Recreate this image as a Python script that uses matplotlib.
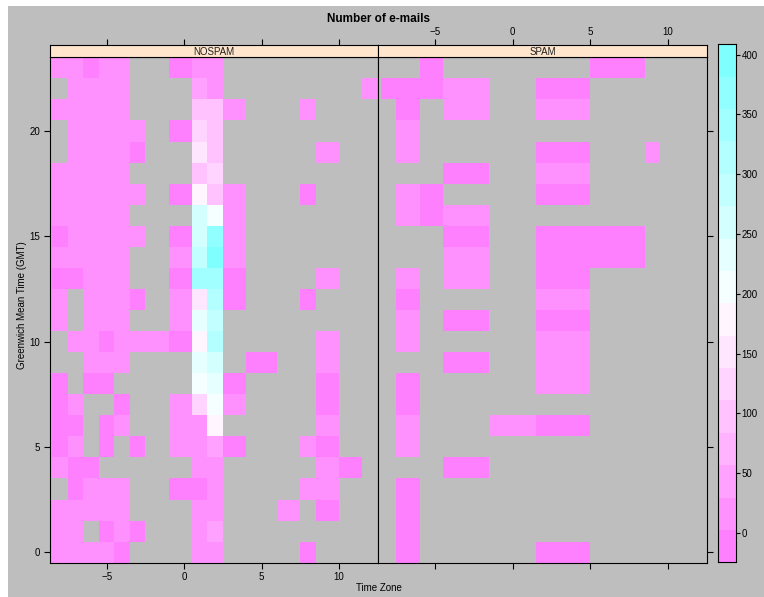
import numpy as np
import matplotlib
matplotlib.use("Agg")
import matplotlib.pyplot as plt
from matplotlib.colors import ListedColormap, BoundaryNorm
from matplotlib.patches import Rectangle

plt.rcParams['font.family'] = ['Liberation Sans', 'DejaVu Sans']

N = np.nan

# ---------------- data ----------------
hours = list(range(24))
panel_names = ["NOSPAM", "SPAM"]

nospam_zones = [-8, -7, -6, -5, -4, -3, -2, 0, 1, 2, 3, 5, 7, 8, 9, 11, 12]
spam_zones = [-8, -7, -5, -4, 1, 2, 8, 9]

# rows = hour 0..23, columns = zones above (NaN = no e-mails)
nospam_counts = [
    [12, 12, 12, 12, 2, N, N, N, 12, 12, N, N, N, 2, N, N, N],      # 0
    [12, 12, N, 2, 12, 2, N, N, 12, 45, N, N, N, N, N, N, N],       # 1
    [12, 12, 12, 12, 12, N, N, N, 12, 12, N, N, 12, N, 2, N, N],    # 2
    [N, 2, 12, 12, 12, N, N, 2, 2, 12, N, N, N, 12, 12, N, N],      # 3
    [12, 2, 2, N, N, N, N, N, 12, 12, N, N, N, N, 12, 2, N],        # 4
    [2, 12, N, 2, N, 2, N, 12, 12, 45, 2, N, N, 12, 2, N, N],       # 5
    [2, 2, N, 2, 12, N, N, 12, 12, 178, N, N, N, N, 12, N, N],      # 6
    [2, 12, N, N, 2, N, N, 12, 125, 205, 12, N, N, N, 2, N, N],     # 7
    [2, N, 2, 2, N, N, N, N, 205, 232, 2, N, N, N, 2, N, N],        # 8
    [N, N, 12, 12, 12, N, N, N, 232, 260, N, 2, N, N, 12, N, N],    # 9
    [N, 12, 12, 2, 12, 12, 12, 2, 178, 314, N, N, N, N, 12, N, N],  # 10
    [12, N, 12, 12, 12, N, N, 12, 232, 287, N, N, N, N, N, N, N],   # 11
    [12, N, 12, 12, 12, 2, N, 12, 150, 314, 2, N, N, 2, N, N, N],   # 12
    [2, 2, 12, 12, 12, N, N, 2, 341, 341, 2, N, N, N, 12, N, N],    # 13
    [12, 12, 12, 12, 12, N, N, 12, 287, 382, 12, N, N, N, N, N, N], # 14
    [2, 12, 12, 12, 12, 12, N, 2, 260, 368, 12, N, N, N, N, N, N],  # 15
    [12, 12, 12, 12, 12, N, N, N, 260, 205, 12, N, N, N, N, N, N],  # 16
    [12, 12, 12, 12, 12, 12, N, 2, 178, 97, 12, N, N, 2, N, N, N],  # 17
    [12, 12, 12, 12, 12, N, N, N, 97, 125, N, N, N, N, N, N, N],    # 18
    [N, 12, 12, 12, 12, 2, N, N, 150, 97, N, N, N, N, 12, N, N],    # 19
    [N, 12, 12, 12, 12, 12, N, 2, 125, 97, N, N, N, N, N, N, N],    # 20
    [12, 12, 12, 12, 12, N, N, N, 97, 97, 12, N, N, 12, N, N, N],   # 21
    [N, 12, 12, 12, 12, N, N, N, 45, 12, N, N, N, N, N, N, 12],     # 22
    [12, 12, 2, 12, 12, N, N, 2, 12, 12, N, N, N, N, N, N, N],      # 23
]

spam_counts = [
    [N, 2, N, N, N, 2, N, N],     # 0
    [N, 2, N, N, N, N, N, N],     # 1
    [N, 2, N, N, N, N, N, N],     # 2
    [N, 2, N, N, N, N, N, N],     # 3
    [N, N, N, 2, N, N, N, N],     # 4
    [N, 12, N, N, N, N, N, N],    # 5
    [N, 12, N, N, 12, 2, N, N],   # 6
    [N, 2, N, N, N, N, N, N],     # 7
    [N, 2, N, N, N, 12, N, N],    # 8
    [N, N, N, 2, N, 12, N, N],    # 9
    [N, 12, N, N, N, 12, N, N],   # 10
    [N, 12, N, 2, N, 2, N, N],    # 11
    [N, 2, N, N, N, 12, N, N],    # 12
    [N, 12, N, 12, N, 2, N, N],   # 13
    [N, N, N, 12, N, 2, 2, N],    # 14
    [N, N, N, 2, N, 2, 2, N],     # 15
    [N, 12, 2, 12, N, N, N, N],   # 16
    [N, 12, 2, N, N, 2, N, N],    # 17
    [N, N, N, 2, N, 12, N, N],    # 18
    [N, 12, N, N, N, 2, N, 12],   # 19
    [N, 12, N, N, N, N, N, N],    # 20
    [N, 2, N, 12, N, 12, N, N],   # 21
    [2, 2, 2, 12, N, 2, N, N],    # 22
    [N, N, 2, N, N, N, 2, N],     # 23
]

x_ticks = [-5, 0, 5, 10]
y_ticks = [0, 5, 10, 15, 20]
cbar_ticks = [0, 50, 100, 150, 200, 250, 300, 350, 400]

title = "Number of e-mails"
xlabel = "Time Zone"
ylabel = "Greenwich Mean Time (GMT)"

# ---------------- style ----------------
GRAY = "#BEBEBE"
STRIP = "#FFE5CC"
W, H = 764, 597
XLIM = (-8.66, 12.53)
YLIM = (-0.5, 23.5)
FS = 7

# lattice-like colour regions: rev(cm.colors(100)), 16 regions
n = 100
k = n // 2
mag = [(1.0, 1.0 - s, 1.0) for s in np.linspace(0.5, 0.5 / k, k)]
cya = [(1.0 - s, 1.0, 1.0) for s in np.linspace(0.5 / k, 0.5, k)]
full = mag + cya
allz = np.array([v for row in nospam_counts + spam_counts for v in row], float)
zmin, zmax = np.nanmin(allz), np.nanmax(allz)
ext = 0.07 * (zmax - zmin)
at = np.linspace(zmin - ext, zmax + ext, 17)
idx = (np.round(np.linspace(1, n, len(at) - 1)) - 1).astype(int)
cmap = ListedColormap([full[i] for i in idx])
norm = BoundaryNorm(at, cmap.N)

fig = plt.figure(figsize=(W / 100, H / 100), dpi=100)
fig.patch.set_facecolor("white")
fig.add_artist(Rectangle((8 / W, 0), 1 - 8 / W, 1 - 6 / H, transform=fig.transFigure,
                         facecolor=GRAY, edgecolor="none", zorder=-10))


def axes_px(x0, y0, x1, y1):
    return fig.add_axes([x0 / W, 1 - y1 / H, (x1 - x0) / W, (y1 - y0) / H])


def bounds(u):
    u = np.asarray(u, float)
    return np.concatenate([[(3 * u[0] - u[1]) / 2], (u[:-1] + u[1:]) / 2,
                           [(3 * u[-1] - u[-2]) / 2]])


panel_x = [(50.0, 378.3), (378.3, 707.3)]
PT, PB = 57.3, 562.7
ST = 45.0
zones_list = [nospam_zones, spam_zones]
counts_list = [nospam_counts, spam_counts]

for p in range(2):
    x0, x1 = panel_x[p]
    ax = axes_px(x0, PT, x1, PB)
    ax.set_facecolor(GRAY)
    Z = np.ma.masked_invalid(np.array(counts_list[p], float))
    bx = bounds(zones_list[p])
    by = bounds(hours)
    ax.pcolormesh(bx, by, Z, cmap=cmap, norm=norm, shading="flat",
                  edgecolors="none", antialiased=False)
    ax.set_xlim(*XLIM)
    ax.set_ylim(*YLIM)
    ax.set_xticks(x_ticks)
    ax.set_yticks(y_ticks)
    for s in ax.spines.values():
        s.set_linewidth(0.8)
    ax.tick_params(direction="out", length=4, width=0.8, labelsize=FS, pad=3)
    if p == 0:
        ax.tick_params(bottom=True, labelbottom=True, top=False, left=True,
                       labelleft=True, right=False)
    else:
        ax.tick_params(bottom=True, labelbottom=False, top=False, left=False,
                       labelleft=False, right=True, labelright=False)
    # strip
    sx = axes_px(x0, ST, x1, PT)
    sx.set_facecolor(STRIP)
    sx.set_xlim(*XLIM)
    sx.set_ylim(0, 1)
    sx.set_xticks(x_ticks)
    sx.set_yticks([])
    for s in sx.spines.values():
        s.set_linewidth(0.8)
    sx.tick_params(axis="x", direction="out", length=4, width=0.8, labelsize=FS,
                   bottom=False, labelbottom=False, top=True, labeltop=(p == 1), pad=2)
    sx.text(0.5, 0.45, panel_names[p], transform=sx.transAxes, ha="center",
            va="center", fontsize=FS, color="#222222")

# colour key
cx = axes_px(718.3, 44.3, 736.0, 562.3)
mids = (at[:-1] + at[1:]) / 2
cx.pcolormesh([0, 1], at, mids.reshape(-1, 1), cmap=cmap, norm=norm, shading="flat",
              antialiased=False)
cx.set_xlim(0, 1)
cx.set_ylim(at[0], at[-1])
cx.set_xticks([])
cx.set_yticks(cbar_ticks)
cx.tick_params(axis="y", direction="out", length=3, width=0.8, labelsize=FS,
               left=False, labelleft=False, right=True, labelright=True, pad=1)
for s in cx.spines.values():
    s.set_linewidth(0.8)

fig.text(378.5 / W, 1 - 19 / H, title, ha="center", va="center",
         fontsize=8.5, fontweight="bold")
fig.text(378.5 / W, 1 - 588 / H, xlabel, ha="center", va="center", fontsize=FS)
fig.text(22 / W, 1 - 305 / H, ylabel, ha="center", va="center", rotation=90,
         fontsize=FS)

fig.savefig("out.png", dpi=100, facecolor=fig.get_facecolor())
